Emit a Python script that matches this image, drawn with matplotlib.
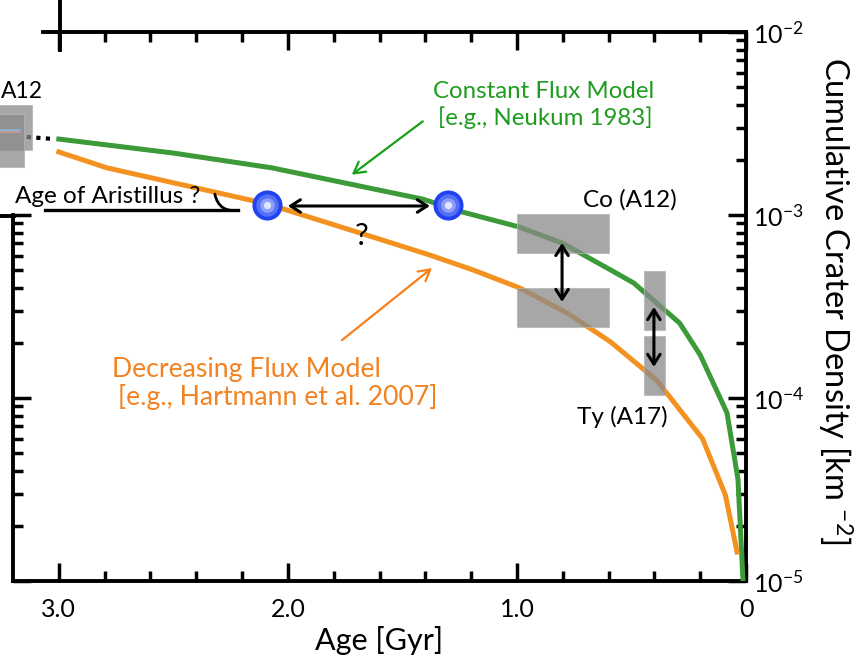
import math
import matplotlib
matplotlib.use("Agg")
import matplotlib.pyplot as plt
from matplotlib.ticker import FixedLocator, FuncFormatter, NullFormatter, LogLocator
from matplotlib.patches import Rectangle
from matplotlib.lines import Line2D

plt.rcParams['font.family'] = ['Lato', 'DejaVu Sans']
plt.rcParams['mathtext.fontset'] = 'custom'
plt.rcParams['mathtext.rm'] = 'Lato'
plt.rcParams['mathtext.it'] = 'Lato:italic'
plt.rcParams['mathtext.bf'] = 'Lato:bold'

# constant flux model (Neukum 1983) - age [Gyr], cumulative density [km^-2]
neukum_age = [3.0, 2.50, 2.07, 1.41, 1.24, 0.99, 0.80, 0.59, 0.49, 0.39, 0.29, 0.20,
              0.083, 0.035, 0.013]
neukum_density = [2.6e-3, 2.18e-3, 1.81e-3, 1.22e-3, 1.04e-3, 8.6e-4, 7.0e-4, 5.0e-4,
                  4.25e-4, 3.3e-4, 2.57e-4, 1.72e-4, 8.3e-5, 3.6e-5, 1.0e-5]

# decreasing flux model (Hartmann et al. 2007)
hartmann_age = [3.0, 2.79, 2.09, 1.686, 1.38, 1.19, 0.987, 0.78, 0.59, 0.39, 0.19, 0.09, 0.039]
hartmann_density = [2.21e-3, 1.81e-3, 1.15e-3, 7.98e-4, 6.04e-4, 5.0e-4, 3.99e-4, 2.91e-4,
                    2.02e-4, 1.25e-4, 6.0e-5, 2.95e-5, 1.44e-5]

# possible ages of Aristillus
aristillus_age = [2.09, 1.30]
aristillus_density = [1.13e-3, 1.13e-3]

# calibration sites: (age min, age max), (density min, density max)
co_age = (0.6, 1.0)
co_upper = (6.2e-4, 1.01e-3)
co_lower = (2.45e-4, 4.0e-4)
ty_age = (0.354, 0.445)
ty_upper = (2.35e-4, 4.94e-4)
ty_lower = (1.04e-4, 2.18e-4)
a12_age = [(3.118, 3.26), (3.153, 3.26)]
a12_density = [(2.27e-3, 3.99e-3), (1.83e-3, 3.57e-3)]

green = '#3c9a38'
green_txt = '#1e9c1e'
orange = '#f39220'
orange_txt = '#f38220'
box_col = '#8a8a8a'

W, H = 860, 663
fig = plt.figure(figsize=(W / 100, H / 100), dpi=100)


def fx(x):
    return x / W


def fy(y):
    return 1 - y / H


ax = fig.add_axes([fx(13), fy(581), (746 - 13) / W, (581 - 32) / H])
ax.set_xlim(3.2, 0)
ax.set_yscale('log')
ax.set_ylim(1e-5, 1e-2)

ax.plot(neukum_age, neukum_density, color=green, lw=3.6, solid_joinstyle='round', zorder=3)
ax.plot(hartmann_age, hartmann_density, color=orange, lw=3.6, solid_joinstyle='round', zorder=3)

# dotted extension towards the A12 point
ax.plot([neukum_age[0] + 0.14, neukum_age[0] + 0.02], [2.67e-3, neukum_density[0]],
        color='k', lw=3, ls=(0, (1, 1.3)), clip_on=False, zorder=3)

# grey boxes
for (a0, a1), (d0, d1) in [(co_age, co_upper), (co_age, co_lower),
                           (ty_age, ty_upper), (ty_age, ty_lower)]:
    ax.add_patch(Rectangle((a0, d0), a1 - a0, d1 - d0, facecolor=box_col,
                           edgecolor='#b5b5b5', lw=0.8, alpha=0.75, zorder=4))
for (a0, a1), (d0, d1) in zip(a12_age, a12_density):
    ax.add_patch(Rectangle((a0, d0), a1 - a0, d1 - d0, facecolor=box_col,
                           edgecolor='#b5b5b5', lw=0.8, alpha=0.75, zorder=4, clip_on=False))
ax.plot([3.26, 3.17], [2.93e-3, 2.93e-3], color='#8fb6d6', lw=1.2, clip_on=False, zorder=5)
ax.plot([3.26, 3.17], [2.85e-3, 2.85e-3], color='#c99a9a', lw=1.2, clip_on=False, zorder=5)

# Aristillus dots
for s, c in [(470, '#2143ef'), (260, '#5470f6'), (110, '#8c9dfb'), (28, '#dfe4ff')]:
    ax.scatter(aristillus_age, aristillus_density, s=s, color=c, lw=0, zorder=6)

arr = dict(arrowstyle='<->,head_length=0.7,head_width=0.45', color='k', lw=2.2,
           shrinkA=0, shrinkB=0)
ax.annotate('', xy=(1.38, 1.12e-3), xytext=(2.0, 1.12e-3), arrowprops=arr, zorder=5)
ax.annotate('', xy=(0.803, 3.35e-4), xytext=(0.803, 7.03e-4), arrowprops=arr, zorder=5)
ax.annotate('', xy=(0.402, 1.48e-4), xytext=(0.402, 3.14e-4), arrowprops=arr, zorder=5)

ax.text(1.677, 6.86e-4, '?', fontsize=22, ha='center', va='baseline')

ax.text(3.192, 1.16e-3, 'Age of Aristillus ?', fontsize=17.5, ha='left', va='baseline')
ax.plot([3.061, 2.219], [1.06e-3, 1.06e-3], color='k', lw=2.4)
ax.annotate('', xy=(2.219, 1.06e-3), xytext=(2.319, 1.30e-3),
            arrowprops=dict(arrowstyle='-', connectionstyle='arc3,rad=0.45', lw=2, color='k',
                            shrinkA=0, shrinkB=0))

ax.text(1.367, 4.36e-3, 'Constant Flux Model', fontsize=17.3, color=green_txt,
        ha='left', va='baseline')
ax.text(1.345, 3.10e-3, '[e.g., Neukum 1983]', fontsize=17.3, color=green_txt,
        ha='left', va='baseline')
ax.annotate('', xy=(1.721, 1.66e-3), xytext=(1.411, 3.25e-3),
            arrowprops=dict(arrowstyle='->,head_length=0.8,head_width=0.45', color='#16a016',
                            lw=1.6, shrinkA=0, shrinkB=0))

ax.text(2.769, 1.30e-4, 'Decreasing Flux Model', fontsize=19.2, color=orange_txt,
        ha='left', va='baseline')
ax.text(2.742, 9.16e-5, '[e.g., Hartmann et al. 2007]', fontsize=19.2, color=orange_txt,
        ha='left', va='baseline')
ax.annotate('', xy=(1.371, 5.13e-4), xytext=(1.764, 2.07e-4),
            arrowprops=dict(arrowstyle='->,head_length=0.8,head_width=0.45', color='#f7801a',
                            lw=1.6, shrinkA=0, shrinkB=0))

ax.text(0.712, 1.11e-3, 'Co (A12)', fontsize=17.5, ha='left', va='baseline')
ax.text(0.738, 7.2e-5, 'Ty (A17)', fontsize=17.5, ha='left', va='baseline')
fig.text(fx(1), fy(98), 'A12', fontsize=16.5, ha='left', va='baseline')

# axes styling
for side in ['top', 'bottom', 'right']:
    ax.spines[side].set_linewidth(2.8)
ax.spines['left'].set_visible(False)
ax.spines['top'].set_bounds(3.07, 0)

ax.xaxis.set_major_locator(FixedLocator([0, 1, 2, 3]))
ax.xaxis.set_minor_locator(FixedLocator([0.2, 0.4, 0.6, 0.8, 1.2, 1.4, 1.6, 1.8,
                                         2.2, 2.4, 2.6, 2.8]))
ax.xaxis.set_major_formatter(FuncFormatter(lambda v, p: '0' if v == 0 else '%.1f' % v))
ax.yaxis.set_major_locator(LogLocator(base=10, numticks=10))
ax.yaxis.set_minor_locator(LogLocator(base=10, subs=range(2, 10), numticks=10))
ax.yaxis.set_major_formatter(FuncFormatter(lambda v, p: '$10^{%d}$' % round(math.log10(v))))
ax.yaxis.set_minor_formatter(NullFormatter())

ax.tick_params(axis='both', which='both', direction='in', width=2.5)
ax.tick_params(axis='both', which='major', length=13)
ax.tick_params(axis='both', which='minor', length=7)
ax.tick_params(axis='x', which='both', top=True, bottom=True)
ax.tick_params(axis='x', which='major', labelsize=18, pad=12)
ax.tick_params(axis='y', which='both', left=False, right=True, labelleft=False, labelright=True)
ax.tick_params(axis='y', which='major', labelsize=18, pad=5)
ax.set_xlabel('Age [Gyr]', fontsize=22, labelpad=4)

# partial left spine
axl = fig.add_axes([fx(13), fy(581), 0.001, (581 - 215) / H])
axl.set_yscale('log')
axl.set_ylim(1e-5, 1e-3)
axl.patch.set_visible(False)
for side in ['top', 'bottom', 'right']:
    axl.spines[side].set_visible(False)
axl.spines['left'].set_linewidth(2.8)
axl.set_xticks([])
axl.yaxis.set_major_locator(LogLocator(base=10, numticks=10))
axl.yaxis.set_minor_locator(LogLocator(base=10, subs=range(2, 10), numticks=10))
axl.yaxis.set_minor_formatter(NullFormatter())
axl.tick_params(axis='y', which='both', direction='in', width=2.5, labelleft=False)
axl.tick_params(axis='y', which='major', length=13)
axl.tick_params(axis='y', which='minor', length=7)

# fragments of neighbouring panel
fig.add_artist(Line2D([fx(60), fx(60)], [fy(0), fy(50)], color='k', lw=2.8))
fig.add_artist(Line2D([fx(0), fx(14)], [fy(216), fy(216)], color='k', lw=2.8))

fig.text(fx(835), fy(301), 'Cumulative Crater Density [km $^{-2}$]', fontsize=23.5,
         rotation=270, ha='center', va='center')

fig.savefig('out.png', dpi=100)
